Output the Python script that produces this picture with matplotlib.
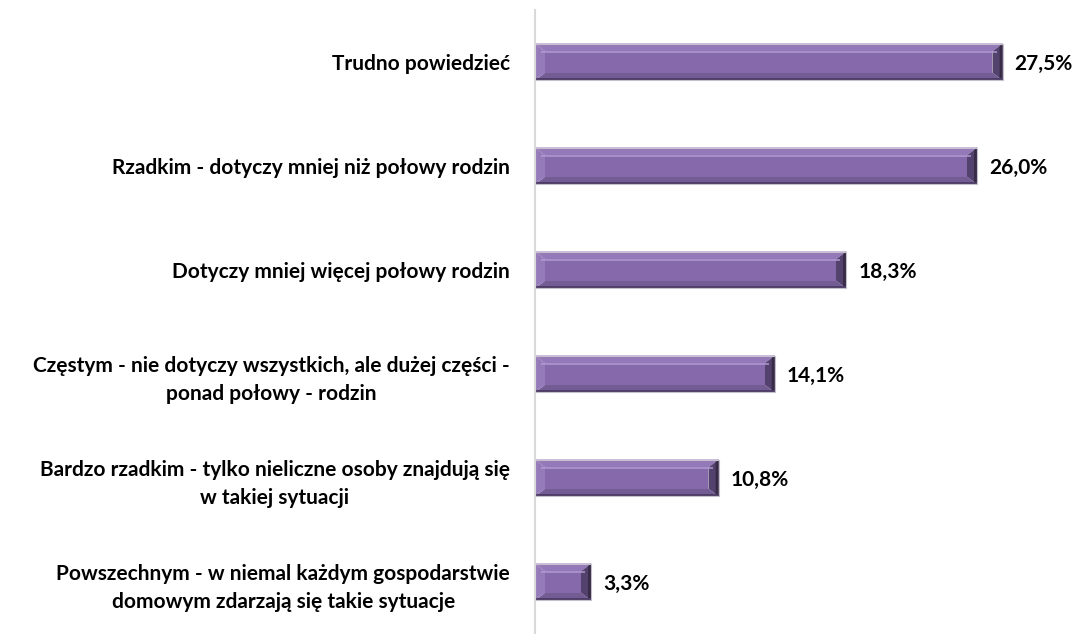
import matplotlib.pyplot as plt
from matplotlib.patches import Polygon, Rectangle

plt.rcParams['font.family'] = ['Lato', 'DejaVu Sans']

categories = [
    'Trudno powiedzieć',
    'Rzadkim - dotyczy mniej niż połowy rodzin',
    'Dotyczy mniej więcej połowy rodzin',
    'Częstym - nie dotyczy wszystkich, ale dużej części -\nponad połowy - rodzin',
    'Bardzo rzadkim - tylko nieliczne osoby znajdują się\nw takiej sytuacji',
    'Powszechnym - w niemal każdym gospodarstwie\ndomowym zdarzają się takie sytuacje',
]
values = [27.5, 26.0, 18.3, 14.1, 10.8, 3.3]
value_labels = ['27,5%', '26,0%', '18,3%', '14,1%', '10,8%', '3,3%']

fig = plt.figure(figsize=(10.86, 6.34), dpi=100)
ax = fig.add_axes([535 / 1086, 0.0, 1 - 535 / 1086, 1 - 10 / 634])

n = len(values)
ax.set_xlim(0, 32.4)
ax.set_ylim(n - 0.5, -0.5)

h = 0.355          # bar height in category units
bx = 0.6           # horizontal bevel (~10px)
by = 0.075         # vertical bevel (~8px)

main_c = '#8669AA'
top_c = '#9479B8'
bot_c = '#735C94'
left_c = '#957BBA'
right_c = '#54426E'


def quad(pts, color, alpha=1.0):
    ax.add_patch(Polygon(pts, closed=True, facecolor=color, edgecolor='none', alpha=alpha))


for i, v in enumerate(values):
    y0, y1 = i - h / 2, i + h / 2
    x0, x1 = 0, v
    bxe = min(bx, v / 4)
    # bevel faces
    quad([(x0, y0), (x1, y0), (x1 - bxe, y0 + by), (x0 + bxe, y0 + by)], top_c)
    quad([(x0, y1), (x1, y1), (x1 - bxe, y1 - by), (x0 + bxe, y1 - by)], bot_c)
    quad([(x0, y0), (x0 + bxe, y0 + by), (x0 + bxe, y1 - by), (x0, y1)], left_c)
    quad([(x1, y0), (x1 - bxe, y0 + by), (x1 - bxe, y1 - by), (x1, y1)], right_c)
    # darker outer edge of the right bevel
    quad([(x1, y0), (x1 - bxe * 0.3, y0 + by * 0.3), (x1 - bxe * 0.3, y1 - by * 0.3), (x1, y1)],
         '#32273F', 0.85)
    # flat face
    ax.add_patch(Rectangle((x0 + bxe, y0 + by), v - 2 * bxe, h - 2 * by,
                           facecolor=main_c, edgecolor='none'))
    # soft highlight stripe near top
    ax.add_patch(Rectangle((x0 + bxe * 0.6, y0 + by * 0.9), v - 1.2 * bxe, (h - 2 * by) * 0.13,
                           facecolor='#B39DD6', edgecolor='none', alpha=0.75))
    # thin dark line at the very bottom
    ax.add_patch(Rectangle((x0, y1 - by * 0.35), v, by * 0.35,
                           facecolor='#4E3D66', edgecolor='none'))
    ax.add_patch(Rectangle((x0, y0), v, h, facecolor='none', edgecolor='#C4BECD', linewidth=0.8))
    ax.text(v + 0.7, i + 0.02, value_labels[i], ha='left', va='center',
            fontsize=15, fontweight='bold', color='black')

ax.set_yticks(range(n))
ax.set_yticklabels(categories, fontsize=15, fontweight='bold', multialignment='center')
for lab in ax.get_yticklabels():
    lab.set_linespacing(1.5)
ax.tick_params(axis='y', length=0, pad=18)
ax.set_xticks([])

for s in ['top', 'right', 'bottom']:
    ax.spines[s].set_visible(False)
ax.spines['left'].set_color('#D9D9D9')
ax.spines['left'].set_linewidth(1.5)

fig.savefig('out.png', dpi=100)
